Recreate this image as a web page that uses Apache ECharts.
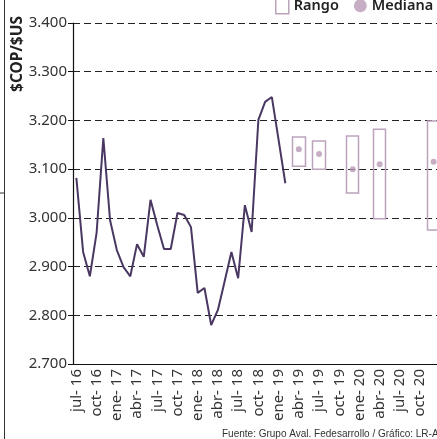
<!DOCTYPE html>
<html>
<head>
<meta charset="utf-8">
<script src="https://cdn.jsdelivr.net/npm/echarts@6/dist/echarts.min.js"></script>
<style>html,body{margin:0;padding:0;background:#fff;}#c{width:437px;height:439px;}</style>
</head>
<body>
<div id="c"></div>
<script>
var categories = ['jul- 16','ago- 16','sep- 16','oct- 16','nov- 16','dic- 16',
  'ene- 17','feb- 17','mar- 17','abr- 17','may- 17','jun- 17','jul- 17','ago- 17','sep- 17','oct- 17','nov- 17','dic- 17',
  'ene- 18','feb- 18','mar- 18','abr- 18','may- 18','jun- 18','jul- 18','ago- 18','sep- 18','oct- 18','nov- 18','dic- 18',
  'ene- 19','feb- 19','mar- 19','abr- 19','may- 19','jun- 19','jul- 19','ago- 19','sep- 19','oct- 19','nov- 19','dic- 19',
  'ene- 20','feb- 20','mar- 20','abr- 20','may- 20','jun- 20','jul- 20','ago- 20','sep- 20','oct- 20','nov- 20','dic- 20'];

// Observed exchange rate (monthly), jul-16 .. feb-19
var tasaObservada = [3082,2930,2880,2969,3164,2995,2934,2899,2880,2946,2920,3037,2985,2936,2936,3010,3006,2981,
  2846,2856,2780,2811,2870,2930,2876,3026,2971,3201,3238,3248,3160,3071];

// Forecast ranges
var rangoMes = ['abr- 19','jul- 19','dic- 19','abr- 20','dic- 20'];
var rangoMin = [3106,3100,3051,2998,2975];
var rangoMax = [3166,3158,3168,3182,3199];
var mediana  = [3141,3131,3100,3110,3115];

var yTicks = [2700,2800,2900,3000,3100,3200,3300,3400];

var lineData = categories.map(function(c,i){ return i < tasaObservada.length ? tasaObservada[i] : '-'; });
var boxData = categories.map(function(c){
  var k = rangoMes.indexOf(c);
  return k < 0 ? '-' : [rangoMin[k], rangoMax[k], rangoMin[k], rangoMax[k]];
});
var medData = categories.map(function(c){
  var k = rangoMes.indexOf(c);
  return k < 0 ? '-' : mediana[k];
});

var boxColor = '#bca3bc';
var dotColor = '#b99ab7';
var chart = echarts.init(document.getElementById('c'), null, {renderer:'canvas'});
chart.setOption({
  animation: false,
  backgroundColor: '#fff',
  textStyle: {fontFamily: 'Noto Sans, sans-serif'},
  grid: {left: 73, top: 23, bottom: 75, right: 0, containLabel: false},
  legend: {
    left: 270, top: -8, width: 400, orient: 'horizontal', itemWidth: 13, itemHeight: 16, itemGap: 15,
    textStyle: {fontSize: 14.5, fontWeight: 600, color: '#222', fontFamily: 'Noto Sans, sans-serif'},
    data: [
      {name: 'Rango', icon: 'rect', itemStyle: {color: '#fff', borderColor: boxColor, borderWidth: 1.5}},
      {name: 'Mediana', icon: 'circle', itemStyle: {color: dotColor}}
    ]
  },
  xAxis: {
    type: 'category', data: categories, boundaryGap: true,
    axisLine: {lineStyle: {color: '#111', width: 1.2}},
    axisTick: {show: false},
    axisLabel: {interval: 2, rotate: 90, margin: 5, fontSize: 15, color: '#333'},
    splitLine: {show: false}
  },
  yAxis: {
    type: 'value', min: yTicks[0], max: yTicks[yTicks.length-1], interval: 100,
    axisLine: {show: true, lineStyle: {color: '#111', width: 1.2}},
    axisTick: {show: true, length: 5, lineStyle: {color: '#111'}},
    axisLabel: {margin: 6, fontSize: 15, color: '#333', formatter: function(v){ return (v/1000).toFixed(3); }},
    splitLine: {show: true, lineStyle: {color: '#222', type: [7,4], width: 1}}
  },
  series: [
    {name: 'Tasa', type: 'line', data: lineData, symbol: 'none', z: 3,
     lineStyle: {color: '#4a3862', width: 2}},
    {name: 'Rango', type: 'candlestick', data: boxData, barWidth: 13,
     itemStyle: {color: 'rgba(255,255,255,0)', color0: 'rgba(255,255,255,0)', borderColor: boxColor, borderColor0: boxColor, borderWidth: 1.5}},
    {name: 'Mediana', type: 'scatter', data: medData, symbol: 'circle', symbolSize: 6,
     itemStyle: {color: dotColor}, z: 4}
  ],
  graphic: [
    {type: 'text', x: 18, y: 54, rotation: Math.PI/2, style: {text: '$COP/$US', fontSize: 15.5, fontWeight: 'bold', fill: '#222', align: 'center', verticalAlign: 'middle', fontFamily: 'Noto Sans, sans-serif'}},
    {type: 'line', shape: {x1: 4.5, y1: 0, x2: 4.5, y2: 439}, style: {stroke: '#333', lineWidth: 1}},
    {type: 'line', shape: {x1: 0, y1: 193, x2: 4, y2: 193}, style: {stroke: '#333', lineWidth: 1}},
    {type: 'text', x: 222, y: 434, style: {text: 'Fuente: Grupo Aval. Fedesarrollo / Gráfico: LR-AR', fontSize: 10, fill: '#333', verticalAlign: 'middle', fontFamily: 'Liberation Sans Narrow, sans-serif'}}
  ]
});
</script>
</body>
</html>
